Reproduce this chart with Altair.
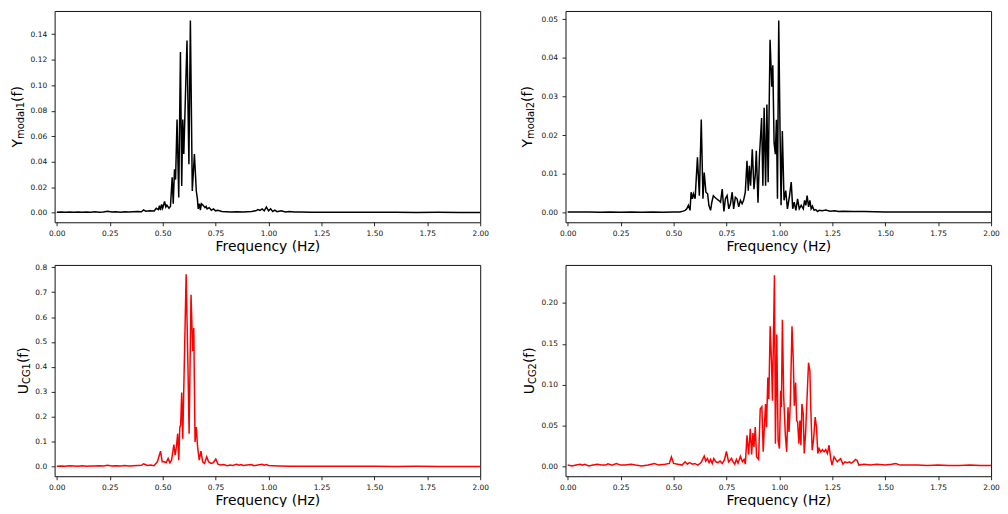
import altair as alt
import pandas as pd

# ---------------- data ----------------
tl_f = [0.00, 0.02, 0.04, 0.06, 0.08, 0.10, 0.12, 0.14, 0.16, 0.18, 0.20, 0.22, 0.24, 0.26, 0.28,
        0.30, 0.32, 0.34, 0.36, 0.38, 0.40, 0.41, 0.42, 0.44, 0.46, 0.47, 0.48, 0.485, 0.49, 0.495,
        0.50, 0.509, 0.515, 0.52, 0.53, 0.537, 0.545, 0.55, 0.556, 0.561, 0.568, 0.576, 0.584, 0.590,
        0.595, 0.600, 0.615, 0.624, 0.631, 0.640, 0.650, 0.659, 0.664, 0.668, 0.674, 0.678, 0.683,
        0.69, 0.70, 0.705, 0.71, 0.72, 0.73, 0.74, 0.75, 0.76, 0.78, 0.80, 0.82, 0.85, 0.88, 0.90,
        0.92, 0.94, 0.95, 0.96, 0.97, 0.98, 0.99, 1.00, 1.01, 1.02, 1.03, 1.04, 1.06, 1.08, 1.10,
        1.12, 1.15, 1.20, 1.30, 1.40, 1.50, 1.60, 1.70, 1.80, 1.90, 2.00]
tl_v = [0.0004, 0.0005, 0.0003, 0.0006, 0.0004, 0.0005, 0.0003, 0.0006, 0.0004, 0.0007, 0.0004, 0.0006,
        0.0012, 0.0005, 0.0007, 0.0004, 0.0008, 0.0005, 0.0007, 0.0009, 0.0008, 0.0022, 0.0012, 0.0015,
        0.0013, 0.0035, 0.0025, 0.0055, 0.0020, 0.0065, 0.0035, 0.0088, 0.0045, 0.0060, 0.0035, 0.0050,
        0.0277, 0.0070, 0.0340, 0.0260, 0.0730, 0.0120, 0.1260, 0.0210, 0.0730, 0.0460, 0.1350, 0.0380,
        0.1507, 0.0170, 0.0460, 0.0170, 0.0110, 0.0030, 0.0070, 0.0020, 0.0070, 0.0060, 0.0040, 0.0050,
        0.0030, 0.0040, 0.0020, 0.0030, 0.0015, 0.0020, 0.0010, 0.0008, 0.0006, 0.0007, 0.0005, 0.0008,
        0.0010, 0.0015, 0.0025, 0.0018, 0.0030, 0.0015, 0.0045, 0.0015, 0.0030, 0.0010, 0.0020, 0.0008,
        0.0015, 0.0006, 0.0010, 0.0005, 0.0006, 0.0003, 0.0004, 0.0003, 0.0003, 0.0003, 0.0002, 0.0003,
        0.0002, 0.0002]

tr_f = [0.00, 0.05, 0.10, 0.15, 0.20, 0.25, 0.30, 0.35, 0.40, 0.45, 0.50, 0.53, 0.545, 0.555,
        0.5626, 0.5704, 0.578, 0.583, 0.589, 0.594, 0.602, 0.613, 0.622, 0.631, 0.639, 0.645, 0.653,
        0.661, 0.667, 0.675, 0.681, 0.688, 0.695, 0.703, 0.713, 0.722, 0.730, 0.738, 0.745, 0.753,
        0.761, 0.769, 0.777, 0.784, 0.792, 0.800, 0.808, 0.816, 0.824, 0.831, 0.839, 0.847, 0.853,
        0.858, 0.864, 0.872, 0.880, 0.886, 0.891, 0.899, 0.906, 0.916, 0.922, 0.928, 0.935, 0.941,
        0.947, 0.956, 0.964, 0.969, 0.975, 0.981, 0.986, 0.991, 0.997, 1.003, 1.008, 1.014, 1.022,
        1.030, 1.038, 1.047, 1.056, 1.063, 1.070, 1.078, 1.086, 1.094, 1.103, 1.113, 1.119, 1.125,
        1.131, 1.138, 1.144, 1.150, 1.156, 1.164, 1.172, 1.180, 1.188, 1.203, 1.219, 1.24, 1.26,
        1.28, 1.30, 1.35, 1.40, 1.50, 1.60, 1.70, 1.80, 1.90, 2.00]
tr_v = [0.0002, 0.0002, 0.0002, 0.0001, 0.0002, 0.0001, 0.0002, 0.0001, 0.0002, 0.0001, 0.0002, 0.0002,
        0.0004, 0.0006, 0.0010, 0.0019, 0.0006, 0.0053, 0.0036, 0.0049, 0.0036, 0.0143, 0.0044, 0.0241,
        0.0036, 0.0104, 0.0053, 0.0049, 0.0019, 0.0006, 0.0027, 0.0044, 0.0040, 0.0036, 0.0032, 0.0027,
        0.0061, 0.0003, 0.0036, 0.0044, 0.0010, 0.0023, 0.0053, 0.0010, 0.0040, 0.0036, 0.0015, 0.0032,
        0.0023, 0.0032, 0.0053, 0.0134, 0.0057, 0.0121, 0.0070, 0.0164, 0.0061, 0.0096, 0.0160, 0.0026,
        0.0147, 0.0245, 0.0070, 0.0271, 0.0070, 0.0280, 0.0079, 0.0447, 0.0326, 0.0381, 0.0181, 0.0151,
        0.0240, 0.0036, 0.0497, 0.0215, 0.0019, 0.0211, 0.0032, 0.0057, 0.0010, 0.0040, 0.0079, 0.0010,
        0.0027, 0.0006, 0.0036, 0.0010, 0.0019, 0.0010, 0.0032, 0.0019, 0.0044, 0.0015, 0.0032, 0.0010,
        0.0017, 0.0006, 0.0008, 0.0003, 0.0006, 0.0005, 0.0007, 0.0004, 0.0005, 0.0003, 0.0004, 0.0003,
        0.0003, 0.0002, 0.0002, 0.0002, 0.0002, 0.0002, 0.0002]

bl_f = [0.00, 0.02, 0.04, 0.06, 0.08, 0.10, 0.12, 0.14, 0.16, 0.18, 0.20, 0.22, 0.24, 0.26, 0.28,
        0.30, 0.32, 0.34, 0.36, 0.38, 0.40, 0.41, 0.42, 0.43, 0.443, 0.459, 0.475, 0.490, 0.498,
        0.506, 0.517, 0.526, 0.534, 0.542, 0.553, 0.559, 0.565, 0.571, 0.576, 0.581, 0.585, 0.590,
        0.595, 0.611, 0.619, 0.625, 0.634, 0.642, 0.647, 0.653, 0.659, 0.665, 0.673, 0.681, 0.689,
        0.698, 0.708, 0.717, 0.728, 0.739, 0.751, 0.762, 0.775, 0.787, 0.806, 0.818, 0.83, 0.85,
        0.86, 0.87, 0.88, 0.90, 0.92, 0.93, 0.95, 0.97, 0.98, 0.99, 1.00, 1.02, 1.05, 1.10, 1.20,
        1.30, 1.40, 1.50, 1.60, 1.70, 1.80, 1.90, 2.00]
bl_v = [0.002, 0.003, 0.002, 0.004, 0.003, 0.002, 0.004, 0.002, 0.003, 0.003, 0.004, 0.003, 0.006,
        0.003, 0.004, 0.003, 0.005, 0.003, 0.004, 0.005, 0.006, 0.012, 0.008, 0.005, 0.0068, 0.0041,
        0.0199, 0.0624, 0.0199, 0.0199, 0.017, 0.0333, 0.0159, 0.0265, 0.089, 0.0465, 0.0797, 0.1326,
        0.0265, 0.159, 0.1656, 0.298, 0.1127, 0.772, 0.424, 0.1326, 0.689, 0.464, 0.556, 0.0995,
        0.159, 0.0797, 0.0265, 0.0624, 0.0199, 0.0133, 0.040, 0.0199, 0.0133, 0.016, 0.0305, 0.0093,
        0.0068, 0.009, 0.004, 0.0068, 0.005, 0.010, 0.006, 0.009, 0.005, 0.007, 0.009, 0.004, 0.007,
        0.010, 0.006, 0.009, 0.005, 0.004, 0.003, 0.002, 0.002, 0.002, 0.0015, 0.0015, 0.001, 0.0015,
        0.001, 0.001, 0.001]

br_f = [0.00, 0.02, 0.04, 0.06, 0.07, 0.08, 0.10, 0.12, 0.14, 0.16, 0.18, 0.19, 0.21, 0.23, 0.25,
        0.27, 0.30, 0.32, 0.35, 0.38, 0.41, 0.43, 0.46, 0.48, 0.49, 0.50, 0.52, 0.54, 0.555, 0.565,
        0.575, 0.59, 0.60, 0.615, 0.63, 0.645, 0.652, 0.66, 0.668, 0.675, 0.683, 0.69, 0.70, 0.71,
        0.72, 0.73, 0.74, 0.75, 0.76, 0.767, 0.7736, 0.7814, 0.7892, 0.797, 0.8048, 0.8158, 0.8252,
        0.833, 0.8392, 0.847, 0.8548, 0.8626, 0.8689, 0.8751, 0.8798, 0.8861, 0.8923, 0.9017, 0.9095,
        0.9173, 0.9236, 0.9283, 0.9345, 0.9392, 0.9455, 0.9502, 0.9564, 0.9627, 0.9673, 0.9767,
        0.9814, 0.9877, 0.9939, 1.0002, 1.0064, 1.0096, 1.0142, 1.0205, 1.0283, 1.0346, 1.0408,
        1.0455, 1.0518, 1.0596, 1.0658, 1.0705, 1.0768, 1.0815, 1.0861, 1.0924, 1.0971, 1.1018,
        1.1064, 1.1127, 1.1174, 1.1237, 1.1315, 1.1377, 1.144, 1.1487, 1.1549, 1.1612, 1.169,
        1.1752, 1.1815, 1.1877, 1.1956, 1.2034, 1.2112, 1.219, 1.2268, 1.2346, 1.2424, 1.2487,
        1.2581, 1.2659, 1.2737, 1.2815, 1.2893, 1.3003, 1.3096, 1.3206, 1.33, 1.3393, 1.3487,
        1.3597, 1.3675, 1.3753, 1.40, 1.43, 1.46, 1.50, 1.53, 1.55, 1.57, 1.60, 1.65, 1.70, 1.75,
        1.80, 1.85, 1.90, 1.95, 2.00]
br_v = [0.002, 0.001, 0.002, 0.003, 0.002, 0.003, 0.001, 0.002, 0.003, 0.002, 0.002, 0.0035, 0.002,
        0.004, 0.002, 0.002, 0.003, 0.002, 0.001, 0.002, 0.004, 0.002, 0.003, 0.004, 0.012, 0.004,
        0.003, 0.002, 0.006, 0.003, 0.005, 0.003, 0.004, 0.002, 0.005, 0.013, 0.007, 0.010, 0.005,
        0.009, 0.004, 0.010, 0.006, 0.005, 0.007, 0.004, 0.008, 0.0186, 0.006, 0.008, 0.0101, 0.006,
        0.0032, 0.0089, 0.0044, 0.0129, 0.0061, 0.0089, 0.0032, 0.0383, 0.0149, 0.0464, 0.0149, 0.0412,
        0.0242, 0.0484, 0.0121, 0.0089, 0.0706, 0.0734, 0.0182, 0.0444, 0.0766, 0.0484, 0.109, 0.0827,
        0.1713, 0.129, 0.0806, 0.2338, 0.0282, 0.1613, 0.0322, 0.0222, 0.0928, 0.0726, 0.1794, 0.0847,
        0.0383, 0.0182, 0.0726, 0.0423, 0.0786, 0.1713, 0.129, 0.0746, 0.1028, 0.0565, 0.0544, 0.0282,
        0.0565, 0.0262, 0.0766, 0.0645, 0.0161, 0.0403, 0.0887, 0.127, 0.117, 0.0685, 0.0202, 0.0322,
        0.0605, 0.0484, 0.0161, 0.0222, 0.0182, 0.021, 0.0182, 0.021, 0.0161, 0.0262, 0.0101, 0.002,
        0.0121, 0.0089, 0.0061, 0.0081, 0.0097, 0.0032, 0.006, 0.0048, 0.006, 0.0044, 0.006, 0.0089,
        0.0077, 0.002, 0.003, 0.002, 0.003, 0.002, 0.003, 0.004, 0.002, 0.002, 0.002, 0.0015, 0.002,
        0.0015, 0.0015, 0.002, 0.0015, 0.0015]

x_ticks = [0.0, 0.25, 0.5, 0.75, 1.0, 1.25, 1.5, 1.75, 2.0]
tl_yticks = [0.0, 0.02, 0.04, 0.06, 0.08, 0.10, 0.12, 0.14]
tr_yticks = [0.0, 0.01, 0.02, 0.03, 0.04, 0.05]
bl_yticks = [0.0, 0.1, 0.2, 0.3, 0.4, 0.5, 0.6, 0.7, 0.8]
br_yticks = [0.0, 0.05, 0.10, 0.15, 0.20]

FONT = "DejaVu Sans"
W, H = 429, 213


def title_parts(main, sub, xb, ystart, sub_dx=2.0):
    """Rotated y-axis title: main letter, subscript, '(f)'."""
    wm = {"Y": 0.6118, "U": 0.732}[main] * 14
    ws = sum({"m": 0.974, "o": 0.602, "d": 0.635, "a": 0.613, "l": 0.278, "1": 0.636,
              "2": 0.636, "C": 0.698, "G": 0.775}[c] for c in sub) * 10
    layers = []
    for txt, size, x, y in [(main, 14, xb, ystart),
                            (sub, 10, xb + sub_dx, ystart - wm),
                            ("(f)", 14, xb, ystart - wm - ws)]:
        layers.append(
            alt.Chart(pd.DataFrame({"t": [txt]})).mark_text(
                angle=270, align="left", baseline="alphabetic", fontSize=size,
                font=FONT, color="black"
            ).encode(x=alt.value(x), y=alt.value(y), text="t:N")
        )
    return layers


def panel(freqs, vals, ydom, yticks, yfmt, color, main, sub, xb, ystart):
    df = pd.DataFrame({"f": freqs, "v": vals})
    line = alt.Chart(df).mark_line(color=color, strokeWidth=1.5, clip=True).encode(
        x=alt.X("f:Q",
                scale=alt.Scale(domain=[-0.0103, 2.0], nice=False, zero=False),
                axis=alt.Axis(values=x_ticks, format=".2f", title="Frequency (Hz)")),
        y=alt.Y("v:Q",
                scale=alt.Scale(domain=ydom, nice=False, zero=False),
                axis=alt.Axis(values=yticks, format=yfmt, title=None)),
    )
    return alt.layer(line, *title_parts(main, sub, xb, ystart)).properties(width=W, height=H)


p1 = panel(tl_f, tl_v, [-0.0075, 0.1582], tl_yticks, ".2f", "black", "Y", "modal1", -33, 137.6)
p2 = panel(tr_f, tr_v, [-0.00248, 0.05215], tr_yticks, ".2f", "black", "Y", "modal2", -33.5, 137.6)
p3 = panel(bl_f, bl_v, [-0.0381, 0.809], bl_yticks, ".1f", "#ff0000", "U", "CG1", -26.6, 130.3)
p4 = panel(br_f, br_v, [-0.0116, 0.2463], br_yticks, ".2f", "#ff0000", "U", "CG2", -31.4, 130.3)

chart = alt.concat(
    p1, p2, p3, p4, columns=2, bounds="flush",
    spacing=alt.RowColnumber(row=43, column=86),
).properties(
    padding={"left": 2, "top": 0, "right": 0, "bottom": -3}
).configure_view(
    stroke="#111", strokeWidth=1
).configure_axis(
    domain=False, grid=False,
    labelFont=FONT, labelFontSize=7.5, labelColor="#111",
    tickColor="#111", tickSize=3.5, tickWidth=0.9,
    titleFont=FONT, titleFontSize=14, titleFontWeight="normal", titleColor="black",
).configure_axisX(
    labelPadding=3.5, titlePadding=2.5, labelFlush=False,
).configure_axisY(
    labelPadding=4.5,
)

chart.save("out.html", embed_options={"renderer": "svg", "actions": False})
